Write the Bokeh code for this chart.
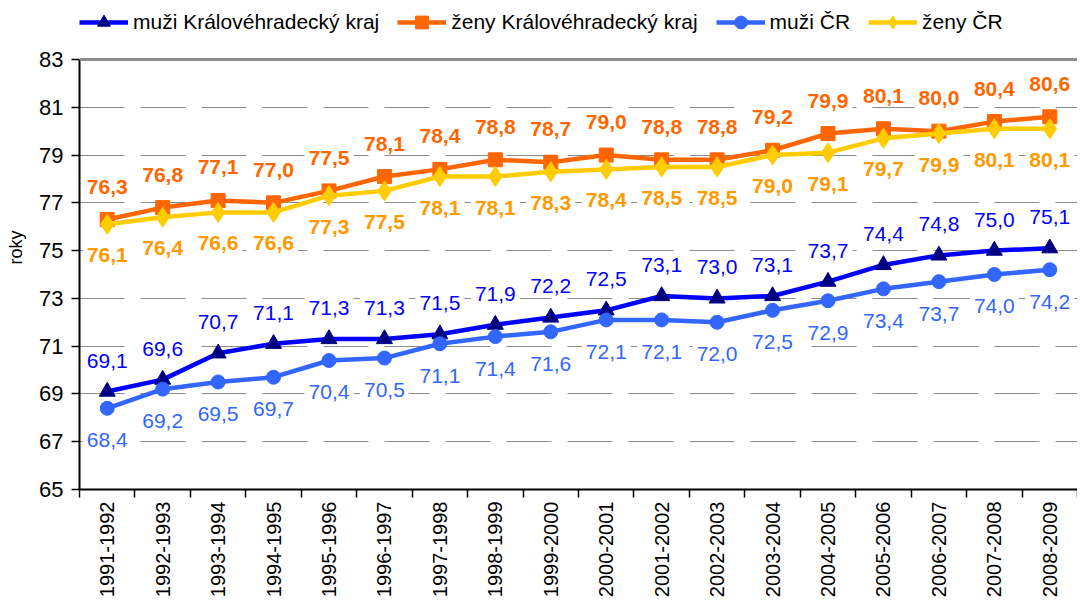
from math import pi
from bokeh.plotting import figure
from bokeh.models import ColumnDataSource, FixedTicker, Legend, LegendItem, Span
from bokeh.core.properties import value
from bokeh.embed import file_html
from bokeh.resources import INLINE

categories = ["1991-1992", "1992-1993", "1993-1994", "1994-1995", "1995-1996",
              "1996-1997", "1997-1998", "1998-1999", "1999-2000", "2000-2001",
              "2001-2002", "2002-2003", "2003-2004", "2004-2005", "2005-2006",
              "2006-2007", "2007-2008", "2008-2009"]
muzi_khk = [69.1, 69.6, 70.7, 71.1, 71.3, 71.3, 71.5, 71.9, 72.2, 72.5, 73.1, 73.0,
            73.1, 73.7, 74.4, 74.8, 75.0, 75.1]
zeny_khk = [76.3, 76.8, 77.1, 77.0, 77.5, 78.1, 78.4, 78.8, 78.7, 79.0, 78.8, 78.8,
            79.2, 79.9, 80.1, 80.0, 80.4, 80.6]
muzi_cr = [68.4, 69.2, 69.5, 69.7, 70.4, 70.5, 71.1, 71.4, 71.6, 72.1, 72.1, 72.0,
           72.5, 72.9, 73.4, 73.7, 74.0, 74.2]
zeny_cr = [76.1, 76.4, 76.6, 76.6, 77.3, 77.5, 78.1, 78.1, 78.3, 78.4, 78.5, 78.5,
           79.0, 79.1, 79.7, 79.9, 80.1, 80.1]
series_names = ["muži Královéhradecký kraj", "ženy Královéhradecký kraj", "muži ČR", "ženy ČR"]
y_ticks = [65, 67, 69, 71, 73, 75, 77, 79, 81, 83]
y_label = "roky"

FONT_NAME = "Liberation Sans"
FONT = value(FONT_NAME)
x = list(range(len(categories)))

# the frame reaches above 83 so that the legend (drawn inside the frame) is visible
p = figure(width=1077, height=600, x_range=(-0.5, len(categories) - 0.5), y_range=(65, 85.26),
           output_backend="svg", toolbar_location=None,
           min_border_left=79, min_border_right=0, min_border_top=5, min_border_bottom=0)
p.outline_line_color = None
p.background_fill_color = "white"
p.border_fill_color = "white"

# grid
p.xgrid.visible = False
p.ygrid.ticker = FixedTicker(ticks=y_ticks[1:-1])
p.ygrid.grid_line_color = "#8c8c8c"
p.ygrid.grid_line_width = 1
p.ygrid.grid_line_dash = "45 16"
p.add_layout(Span(location=y_ticks[-1], dimension="width", line_color="#8c8c8c", line_width=3))

# y axis
p.yaxis.ticker = FixedTicker(ticks=y_ticks)
p.yaxis.bounds = (y_ticks[0], y_ticks[-1])
p.yaxis.axis_line_color = "black"
p.yaxis.axis_line_width = 2
p.yaxis.major_tick_out = 8
p.yaxis.major_tick_in = 0
p.yaxis.major_tick_line_color = "black"
p.yaxis.major_tick_line_width = 1.5
p.yaxis.minor_tick_line_color = None
p.yaxis.major_label_text_font = FONT_NAME
p.yaxis.major_label_text_font_size = "22px"
p.yaxis.major_label_text_color = "black"
p.yaxis.major_label_standoff = 8
p.yaxis.axis_label = y_label
p.yaxis.axis_label_text_font = FONT_NAME
p.yaxis.axis_label_text_font_size = "18px"
p.yaxis.axis_label_text_font_style = "normal"
p.yaxis.axis_label_text_color = "black"
p.yaxis.axis_label_standoff = 10

# x axis
p.xaxis.ticker = FixedTicker(ticks=x, minor_ticks=[i - 0.5 for i in range(len(categories) + 1)])
p.xaxis.major_label_overrides = {i: c for i, c in zip(x, categories)}
p.xaxis.major_label_orientation = pi / 2
p.xaxis.axis_line_color = "black"
p.xaxis.axis_line_width = 2
p.xaxis.major_tick_out = 0
p.xaxis.major_tick_in = 0
p.xaxis.minor_tick_out = 8
p.xaxis.minor_tick_in = 0
p.xaxis.minor_tick_line_color = "black"
p.xaxis.minor_tick_line_width = 1.5
p.xaxis.major_label_text_font = FONT_NAME
p.xaxis.major_label_text_font_size = "20px"
p.xaxis.major_label_text_color = "black"
p.xaxis.major_label_standoff = 4

styles = [
    dict(data=muzi_khk, line="#0000FF", marker="triangle", mcolor="#000080", size=16,
         lcolor="#0000FF", bold=False, off=-31),
    dict(data=zeny_khk, line="#FF6600", marker="square", mcolor="#FF6600", size=14,
         lcolor="#FF6600", bold=True, off=-33),
    dict(data=muzi_cr, line="#3366FF", marker="circle", mcolor="#3366FF", size=14,
         lcolor="#3366FF", bold=False, off=32),
    dict(data=zeny_cr, line="#FFCC00", marker="diamond", mcolor="#FFCC00", size=20,
         lcolor="#FF9900", bold=True, off=31),
]

items = []
sources = []
for name, st in zip(series_names, styles):
    src = ColumnDataSource(dict(x=x, y=st["data"],
                                lab=[f"{v:.1f}".replace(".", ",") for v in st["data"]]))
    sources.append(src)
    l = p.line("x", "y", source=src, line_color=st["line"], line_width=4.5)
    s = p.scatter("x", "y", source=src, marker=st["marker"], size=st["size"],
                  fill_color=st["mcolor"], line_color=st["mcolor"])
    items.append(LegendItem(label=name, renderers=[l, s]))

for src, st in zip(sources, styles):
    p.text("x", "y", text="lab", source=src, text_font=FONT, text_font_size="21px",
           text_font_style="bold" if st["bold"] else "normal",
           text_color=st["lcolor"], text_align="center", text_baseline="middle",
           y_offset=st["off"], background_fill_color="white", padding=4)

legend = Legend(items=items, orientation="horizontal", location=(0, 451),
                glyph_width=49, glyph_height=32, label_standoff=5, spacing=18,
                padding=0, margin=0, border_line_color=None, background_fill_alpha=0,
                label_text_font=FONT_NAME, label_text_font_size="21px", label_text_color="black")
p.add_layout(legend, "center")

open("out.html", "w").write(file_html(p, INLINE))
